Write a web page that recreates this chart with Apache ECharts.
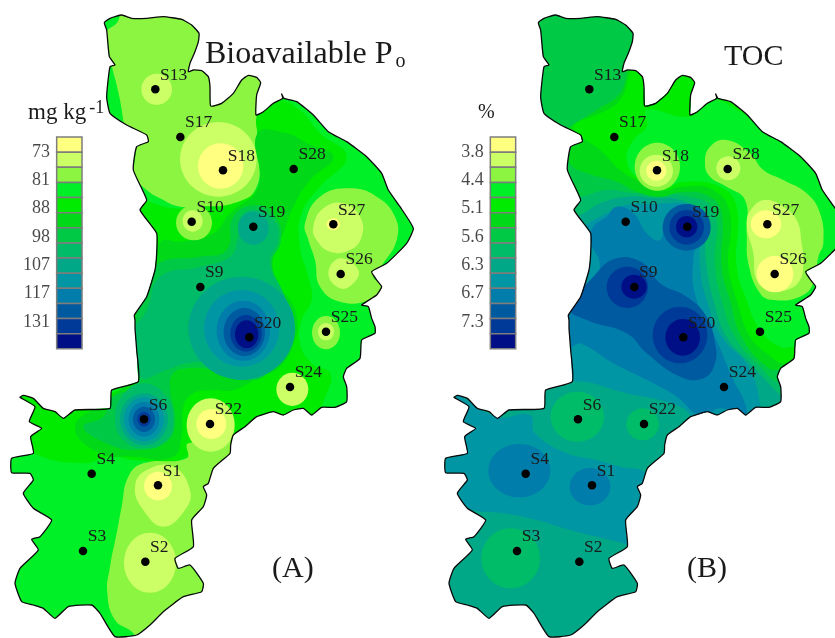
<!DOCTYPE html>
<html><head><meta charset="utf-8">
<style>html,body{margin:0;padding:0;background:#fff}#c{width:835px;height:638px;filter:blur(0.4px)}</style>
<script src="https://cdn.jsdelivr.net/npm/echarts@6/dist/echarts.min.js"></script>
</head><body><div id="c"></div>
<script>
const levelColors=['#FFFF80','#CCFF66','#8CF542','#00F028','#00EB00','#00D818','#00CA45','#00BB68','#00A888','#0096A4','#007DAA','#005AA0','#003A98','#000F86'];
const legendLabelsA=['73','81','88','98','107','117','131'];
const legendLabelsB=['3.8','4.4','5.1','5.6','6.3','6.7','7.3'];
const stationNames=['S13','S17','S18','S28','S10','S19','S27','S26','S9','S25','S20','S24','S6','S22','S1','S4','S3','S2'];
const stationX=[466,541,669,881,575,760,1000,1022,601,978,748,870,432,630,474,275,249,436];
const stationY=[268,411,511,507,665,680,673,822,861,995,1012,1161,1258,1272,1456,1421,1653,1685];
const outline=[313,68,330,55,365,45,395,55,440,55,490,50,545,58,575,75,597,100,595,125,583,160,570,190,565,215,580,210,605,212,625,230,630,260,632,318,665,310,700,280,725,240,745,226,770,232,782,248,770,285,768,345,790,335,820,310,848,295,845,282,852,295,890,305,940,345,985,395,1040,425,1100,470,1145,520,1165,570,1200,620,1240,685,1220,730,1160,790,1115,815,1130,840,1145,860,1130,885,1085,915,1105,920,1115,955,1125,980,1125,1000,1085,1020,1080,1075,1040,1105,1030,1130,1040,1160,1040,1205,1005,1222,965,1222,935,1245,910,1225,880,1230,850,1245,820,1235,770,1250,735,1280,700,1305,692,1335,690,1360,640,1405,625,1450,610,1460,620,1485,610,1520,575,1560,580,1640,525,1675,535,1705,570,1695,610,1750,605,1775,550,1790,490,1835,450,1875,410,1905,345,1910,300,1840,275,1815,205,1820,165,1855,130,1825,100,1815,65,1805,45,1750,60,1705,115,1650,95,1618,120,1610,155,1560,100,1525,70,1480,100,1440,90,1420,35,1418,35,1375,100,1360,92,1310,125,1285,88,1265,105,1220,60,1192,70,1186,100,1195,130,1225,165,1235,190,1255,225,1230,330,1225,335,1170,415,1145,410,1050,405,985,405,960,403,945,440,890,465,810,470,760,470,700,420,630,440,600,400,510,410,440,445,425,440,405,380,375,330,340,320,290,330,200,345,195,328,170,320,90];
const contoursA=[
[2,320,100,350,70,375,30,620,20,650,300,760,190,800,230,772,360,778,480,770,560,720,610,650,620,540,620,480,595,440,570,400,525,360,300],
[4,772,340,830,300,900,330,960,400,1040,470,960,560,905,640,900,740,925,830,935,900,905,960,900,1030,935,1090,990,1120,980,1180,930,1260,800,1260,730,1300,640,1390,570,1370,520,1385,400,1380,330,1370,245,1390,100,1360,40,1300,40,1170,240,1210,330,1180,400,1130,395,1000,430,880,450,790,460,730,420,610,520,625,600,620,700,610,775,560,782,450],
[5,772,400,860,400,920,430,1000,470,930,540,880,620,850,700,820,770,830,850,870,900,890,950,885,1020,840,1100,780,1130,700,1170,640,1170,580,1180,550,1220,545,1300,520,1370,400,1370,300,1360,225,1280,320,1200,400,1120,385,1000,430,880,470,750,490,720,540,725,640,700,690,640,775,560],
[6,440,860,475,790,600,770,680,750,700,650,770,615,830,655,842,725,815,790,850,880,870,960,870,1030,820,1100,760,1140,640,1110,560,1105,520,1120,510,1160,525,1270,495,1330,400,1350,320,1330,250,1280,310,1250,335,1195,410,1150,400,1000],
[7,440,930,480,830,600,800,690,770,712,720,722,650,770,630,825,665,835,720,810,790,850,880,880,960,875,1030,830,1095,760,1120,640,1090,560,1090,500,1110,420,1130,400,1000],
[7,345,1260,365,1190,430,1150,500,1190,520,1260,500,1320,430,1345,370,1320],
[8,760,685,46,50],
[8,725,985,160,155],
[9,725,985,113,115],
[10,730,992,80,90],
[11,733,996,62,72],
[12,738,1000,47,55],
[13,740,1003,35,42],
[8,432,1258,72,78],
[9,432,1258,60,66],
[10,432,1258,46,52],
[11,432,1258,33,38],
[12,432,1258,20,22],
[1,470,268,46,47],
[1,655,478,115,112],
[0,662,498,68,68],
[2,582,668,54,53],
[1,578,663,30,32],
[2,915,670,960,590,1050,565,1130,590,1185,650,1190,720,1150,790,1120,830,1150,860,1110,900,1020,905,960,860,945,780,925,720],
[1,940,680,970,625,1030,610,1080,650,1085,710,1050,750,990,755,950,720],
[0,1000,673,20,18],
[1,985,820,1020,775,1075,810,1060,850,1020,865],
[2,565,1330,560,1375,430,1390,385,1430,365,1520,350,1600,330,1700,322,1780,345,1860,400,1900,420,1950,700,1950,760,1400,720,1330],
[1,632,1275,72,80],
[0,634,1272,45,45],
[1,405,1460,440,1410,520,1400,570,1470,555,1530,490,1580,430,1530],
[0,474,1458,42,43],
[1,450,1688,78,90],
[2,978,998,42,50],
[1,978,995,24,26],
[1,877,1168,48,50]
];
const contoursB=[
[9,60,1170,230,1250,330,1245,345,1300,440,1360,530,1380,600,1400,680,1420,720,1500,640,1640,610,1630,450,1590,350,1560,250,1540,150,1530,40,1500,30,1300],
[10,298,1412,93,80],
[10,510,1460,61,56],
[7,472,1250,80,75],
[7,668,1273,49,48],
[7,272,1675,88,90],
[7,320,20,1300,20,1300,1200,1090,1190,1075,1180,1000,1100,920,1010,880,900,860,800,840,640,780,600,700,595,620,590,540,610,490,640,460,650,320,660],
[6,320,20,1300,20,1300,1150,1085,1150,1020,1100,945,1010,905,900,885,800,880,630,780,585,650,580,560,570,480,590,320,590],
[5,650,180,1300,20,1300,1110,1085,1110,1040,1100,965,1010,930,900,905,800,905,640,870,590,790,575,720,590,650,575,590,545,500,520,450,490,430,400,460,375,530,330,600,280],
[4,660,190,1300,20,1300,1090,1090,1090,1040,1060,990,1010,950,900,925,800,930,640,880,570,790,560,720,570,650,540,600,510,540,450,470,400,460,375,540,340,600,300],
[3,680,330,810,350,880,300,950,330,1000,360,1250,560,1300,1040,1120,1040,1080,1040,1020,990,980,900,950,800,950,620,900,560,790,545,740,560,650,530,620,480,640,420,680,380],
[2,855,490,870,440,920,420,990,460,1030,510,1090,540,1160,580,1200,640,1210,730,1195,770,1180,850,1140,890,1060,900,1020,880,985,790,980,700,975,600,920,560,870,530],
[2,712,500,68,72],
[1,709,512,50,48],
[0,709,512,30,30],
[1,925,505,36,36],
[1,980,670,1000,620,1040,600,1090,620,1130,660,1145,730,1150,790,1140,840,1100,870,1050,870,1010,840,1000,760],
[0,1038,673,46,42],
[0,1065,822,55,55],
[9,430,720,490,680,560,640,620,615,700,612,800,612,838,640,840,800,860,900,905,1010,985,1100,1020,1210,1010,1240,975,1260,880,1250,825,1255,790,1225,720,1200,620,1180,520,1150,440,1125,425,900],
[10,520,680,560,650,590,620,640,640,680,700,720,720,740,660,780,620,830,625,850,660,820,780,830,900,885,1010,940,1140,975,1210,975,1250,905,1225,840,1245,770,1190,700,1150,580,1090,480,1030,450,1040,440,930,500,880,540,800,510,720],
[11,450,925,520,830,590,775,670,790,720,850,800,890,860,950,885,1030,885,1090,850,1135,780,1130,680,1060,620,1000,500,960],
[11,800,682,72,70],
[12,622,862,62,62],
[12,780,1005,82,85],
[12,800,682,52,52],
[13,642,860,38,36],
[13,800,680,32,32],
[13,788,1012,52,55]
];
const stationData=(dx)=>stationNames.map((n,i)=>({name:n,value:[stationX[i]+dx,stationY[i]]}));
const SERIF='"Liberation Serif","Times New Roman",serif';
const INK='#1a1a1a';
function ptsOf(api,arr,start,dx){const r=[];for(let i=start;i+1<arr.length;i+=2)r.push(api.coord([arr[i]+dx,arr[i+1]]));return r;}
function contourSeries(list,dx,gi){
  return {type:'custom',coordinateSystem:'cartesian2d',xAxisIndex:gi,yAxisIndex:gi,silent:true,z:2,
    data:list.map((c,i)=>[i]),encode:{x:0,y:0},
    renderItem(p,api){
      const c=list[api.value(0)];
      const clip={type:'polygon',shape:{points:ptsOf(api,outline,0,dx)}};
      const fill=levelColors[c[0]];
      if(c.length===5){
        const o=api.coord([c[1],c[2]]),e=api.coord([c[1]+c[3],c[2]+c[4]]);
        return {type:'ellipse',shape:{cx:o[0],cy:o[1],rx:Math.abs(e[0]-o[0]),ry:Math.abs(e[1]-o[1])},style:{fill},clipPath:clip};
      }
      return {type:'polygon',shape:{points:ptsOf(api,c,1,0),smooth:0.45},style:{fill},clipPath:clip};
    }};
}
function outlineSeries(fillLevel,dx,gi,z,stroke){
  return {type:'custom',coordinateSystem:'cartesian2d',xAxisIndex:gi,yAxisIndex:gi,silent:true,z,
    data:[[0]],encode:{x:0,y:0},
    renderItem(p,api){
      return {type:'polygon',shape:{points:ptsOf(api,outline,0,dx),smooth:0.15},
        style:stroke?{fill:'none',stroke:'#0a0a0a',lineWidth:1.3,lineJoin:'round'}:{fill:levelColors[fillLevel]}};
    }};
}
function stationSeries(dx,gi){
  return {type:'scatter',xAxisIndex:gi,yAxisIndex:gi,silent:true,z:6,symbol:'circle',symbolSize:8.5,
    itemStyle:{color:'#000',opacity:1},data:stationData(dx),
    label:{show:true,formatter:'{b}',position:[9,-10],align:'left',verticalAlign:'middle',
      fontFamily:SERIF,fontSize:17.5,color:INK}};
}
function legendSeries(dx,gi,labels){
  return [{type:'custom',coordinateSystem:'cartesian2d',xAxisIndex:gi,yAxisIndex:gi,silent:true,z:3,
    data:levelColors.map((c,i)=>[i]),encode:{x:0,y:0},
    renderItem(p,api){
      const i=api.value(0),t=411+i*45.4;
      const a=api.coord([170+dx,t]),b=api.coord([246+dx,t+45.4]);
      return {type:'rect',shape:{x:a[0],y:a[1],width:b[0]-a[0],height:b[1]-a[1]},
        style:{fill:levelColors[i],stroke:'#7d7d7d',lineWidth:1.5}};
    }},
   {type:'scatter',xAxisIndex:gi,yAxisIndex:gi,silent:true,z:3,symbolSize:0,
    data:labels.map((l,i)=>({name:l,value:[150+dx,456+i*85]})),
    label:{show:true,formatter:'{b}',position:'left',distance:0,fontFamily:SERIF,fontSize:18,color:INK}}];
}
const plain=(text,left,top,size)=>({text,left,top,padding:0,textStyle:{fontFamily:SERIF,fontWeight:'normal',fontSize:size,color:INK}});
const chart=echarts.init(document.getElementById('c'),null,{renderer:'canvas'});
chart.setOption({
  animation:false,
  grid:[{left:0,top:0,width:420,height:638},{left:420,top:0,width:415,height:638}],
  xAxis:[{type:'value',min:0,max:1260,show:false,gridIndex:0},{type:'value',min:0,max:1245,show:false,gridIndex:1}],
  yAxis:[{type:'value',min:0,max:1914,inverse:true,show:false,gridIndex:0},{type:'value',min:0,max:1914,inverse:true,show:false,gridIndex:1}],
  title:[
    {text:'{m|Bioavailable P}{s|o}',left:205,top:38,padding:0,textStyle:{fontWeight:'normal',rich:{m:{fontFamily:SERIF,fontWeight:'normal',fontSize:32,color:INK,lineHeight:34},s:{fontFamily:SERIF,fontWeight:'normal',fontSize:20,color:INK,verticalAlign:'bottom',padding:[12,0,0,3]}}}},
    plain('TOC',724,42,30),
    {text:'{m|mg kg}{s|-1}',left:28,top:99,padding:0,textStyle:{fontWeight:'normal',rich:{m:{fontFamily:SERIF,fontWeight:'normal',fontSize:23,color:INK,lineHeight:28},s:{fontFamily:SERIF,fontWeight:'normal',fontSize:18,color:INK,padding:[0,0,10,3]}}}},
    plain('%',478,103,20),
    plain('(A)',272,554,30),
    plain('(B)',687,554,30)
  ],
  series:[
    outlineSeries(3,0,0,1,false),
    contourSeries(contoursA,0,0),
    outlineSeries(3,0,0,4,true),
    stationSeries(0,0),
    ...legendSeries(0,0,legendLabelsA),
    outlineSeries(8,42,1,1,false),
    contourSeries(contoursB,42,1),
    outlineSeries(8,42,1,4,true),
    stationSeries(42,1),
    ...legendSeries(41,1,legendLabelsB)
  ]
});
</script></body></html>
